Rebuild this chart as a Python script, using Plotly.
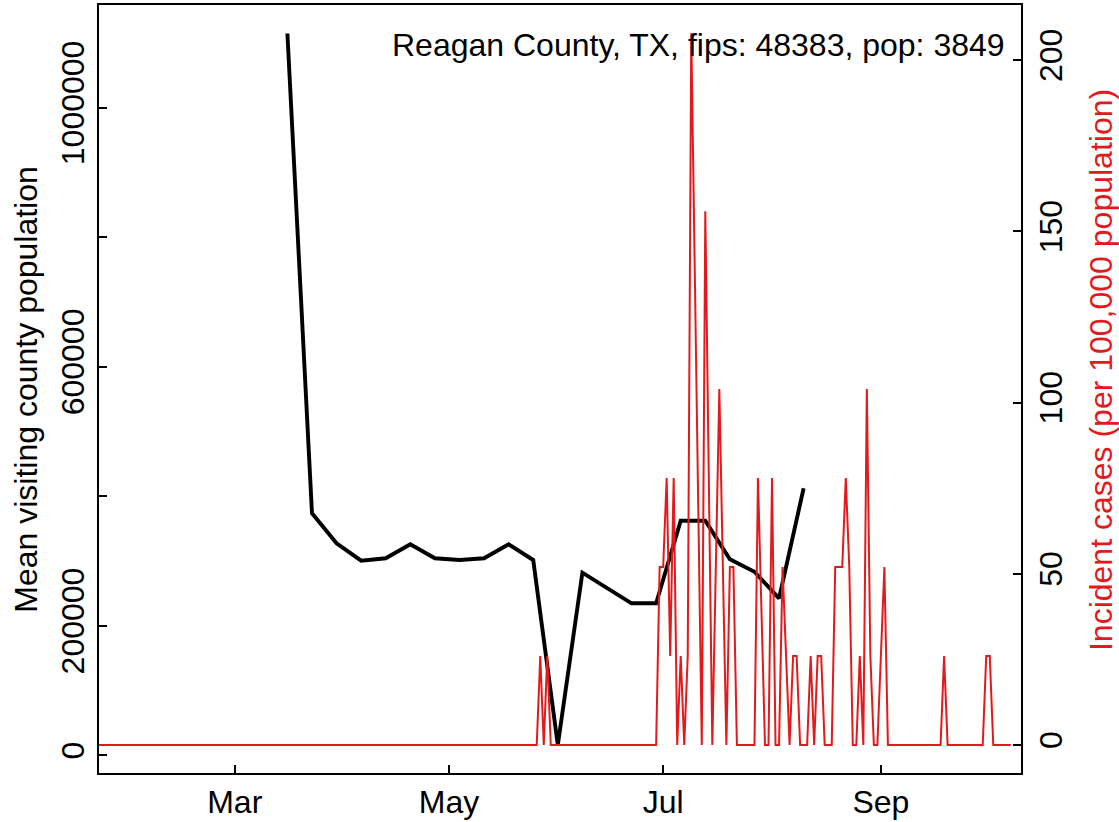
import pandas as pd
import plotly.graph_objects as go

# ---------------- data ----------------
county_label = "Reagan County, TX, fips: 48383, pop: 3849"
population = 3849

# weekly mean visiting county population (black line)
mob_dates = ["2020-03-16", "2020-03-23", "2020-03-30", "2020-04-06", "2020-04-13",
             "2020-04-20", "2020-04-27", "2020-05-04", "2020-05-11", "2020-05-18",
             "2020-05-25", "2020-06-01", "2020-06-08", "2020-06-15", "2020-06-22",
             "2020-06-29", "2020-07-06", "2020-07-13", "2020-07-20", "2020-07-27",
             "2020-08-03", "2020-08-10"]
mob_values = [1114600, 373700, 327400, 300500, 304200,
              325800, 304200, 301600, 304200, 325800,
              301600, 15900, 282000, 258400, 234700,
              234700, 362300, 362300, 302600, 283500,
              242400, 412300]

# daily incident cases (red line): period, and days with non-zero / unreported counts
case_start = "2020-01-22"
case_end = "2020-10-08"
case_dates = ["2020-05-27", "2020-05-29", "2020-06-30", "2020-07-01", "2020-07-02",
              "2020-07-03", "2020-07-04", "2020-07-06", "2020-07-08", "2020-07-09",
              "2020-07-10", "2020-07-11", "2020-07-13", "2020-07-14", "2020-07-16",
              "2020-07-17", "2020-07-18", "2020-07-20", "2020-07-21", "2020-07-28",
              "2020-07-29", "2020-08-01", "2020-08-04", "2020-08-05", "2020-08-07",
              "2020-08-08", "2020-08-12", "2020-08-14", "2020-08-15", "2020-08-19",
              "2020-08-20", "2020-08-21", "2020-08-22", "2020-08-23", "2020-08-26",
              "2020-08-28", "2020-08-29", "2020-09-01", "2020-09-02", "2020-09-19",
              "2020-10-01", "2020-10-02"]
case_counts = [1, 1, 2, 2, 3,
               1, 3, 1, 1, 8,
               None, None, 6, 3, 2,
               4, 2, 2, 2, 3,
               None, 3, 2, 1, 1,
               1, 1, 1, 1, 2,
               2, 2, 3, 2, 1,
               4, 1, 1, 2, 1,
               1, 1]

x_ticks = ["2020-03-01", "2020-05-01", "2020-07-01", "2020-09-01"]
x_tick_labels = ["Mar", "May", "Jul", "Sep"]
y_ticks = [0, 200000, 400000, 600000, 800000, 1000000]
y_tick_labels = ["0", "200000", "", "600000", "", "1000000"]
y2_ticks = [0, 50, 100, 150, 200]
y2_tick_labels = ["0", "50", "100", "150", "200"]

# ---------------- build red series ----------------
days = pd.date_range(case_start, case_end, freq="D")
cnt = {d: 0 for d in days}
for d, c in zip(case_dates, case_counts):
    cnt[pd.Timestamp(d)] = c
red_x = [d for d in days if cnt[d] is not None]
red_y = [cnt[d] * 100000 / population for d in red_x]

# ---------------- layout geometry ----------------
W, H = 1119, 822
L, R, T, B = 99.3, 1021.0, 5.0, 773.0
pw, ph = R - L, B - T

def px_x(px):
    return (px - L) / pw

def px_y(py):
    return (B - py) / ph

FONT = "Liberation Sans, Arial, Helvetica, sans-serif"
FS = 32
RED = "#E31A1C"

fig = go.Figure()
fig.add_trace(go.Scatter(x=pd.to_datetime(mob_dates), y=mob_values, mode="lines",
                         line=dict(color="black", width=3.9), yaxis="y",
                         showlegend=False, hoverinfo="skip"))
fig.add_trace(go.Scatter(x=red_x, y=red_y, mode="lines",
                         line=dict(color=RED, width=2), yaxis="y2",
                         showlegend=False, hoverinfo="skip"))

axis_common = dict(showgrid=False, zeroline=False, showline=True, linecolor="black",
                   linewidth=1.6, ticks="inside", ticklen=8, tickwidth=1.6,
                   tickcolor="black", automargin=False,
                   tickfont=dict(family=FONT, size=FS, color="black"))

fig.update_layout(
    width=W, height=H,
    margin=dict(l=L, r=W - R, t=T, b=H - B, pad=0, autoexpand=False),
    paper_bgcolor="white", plot_bgcolor="white",
    xaxis=dict(type="date", range=["2020-01-22 08:24", "2020-10-10 21:36"],
               tickvals=pd.to_datetime(x_ticks), ticktext=x_tick_labels,
               mirror=True, ticklabelstandoff=0, **axis_common),
    yaxis=dict(range=[-27330, 1158600], tickvals=y_ticks, ticktext=y_tick_labels,
               tickangle=-90, mirror=True, ticklabelstandoff=0, **axis_common),
    yaxis2=dict(range=[-8.2, 216.1], tickvals=y2_ticks, ticktext=y2_tick_labels,
                overlaying="y", side="right", tickangle=-90, ticklabelstandoff=1,
                **axis_common),
    annotations=[
        dict(text=county_label, x=px_x(1007), y=px_y(45), xref="paper", yref="paper",
             xanchor="right", yanchor="middle", showarrow=False,
             font=dict(family=FONT, size=FS, color="black")),
        dict(text="Mean visiting county population", x=px_x(26), y=px_y(389),
             xref="paper", yref="paper", xanchor="center", yanchor="middle",
             textangle=-90, showarrow=False,
             font=dict(family=FONT, size=FS, color="black")),
        dict(text="Incident cases (per 100,000 population)", x=px_x(1101), y=px_y(370),
             xref="paper", yref="paper", xanchor="center", yanchor="middle",
             textangle=-90, showarrow=False,
             font=dict(family=FONT, size=FS, color=RED)),
    ],
)

fig.write_html("out.html", config={"displayModeBar": False},
               post_script="document.body.style.margin='0px';"
                           "document.body.style.overflow='hidden';")
